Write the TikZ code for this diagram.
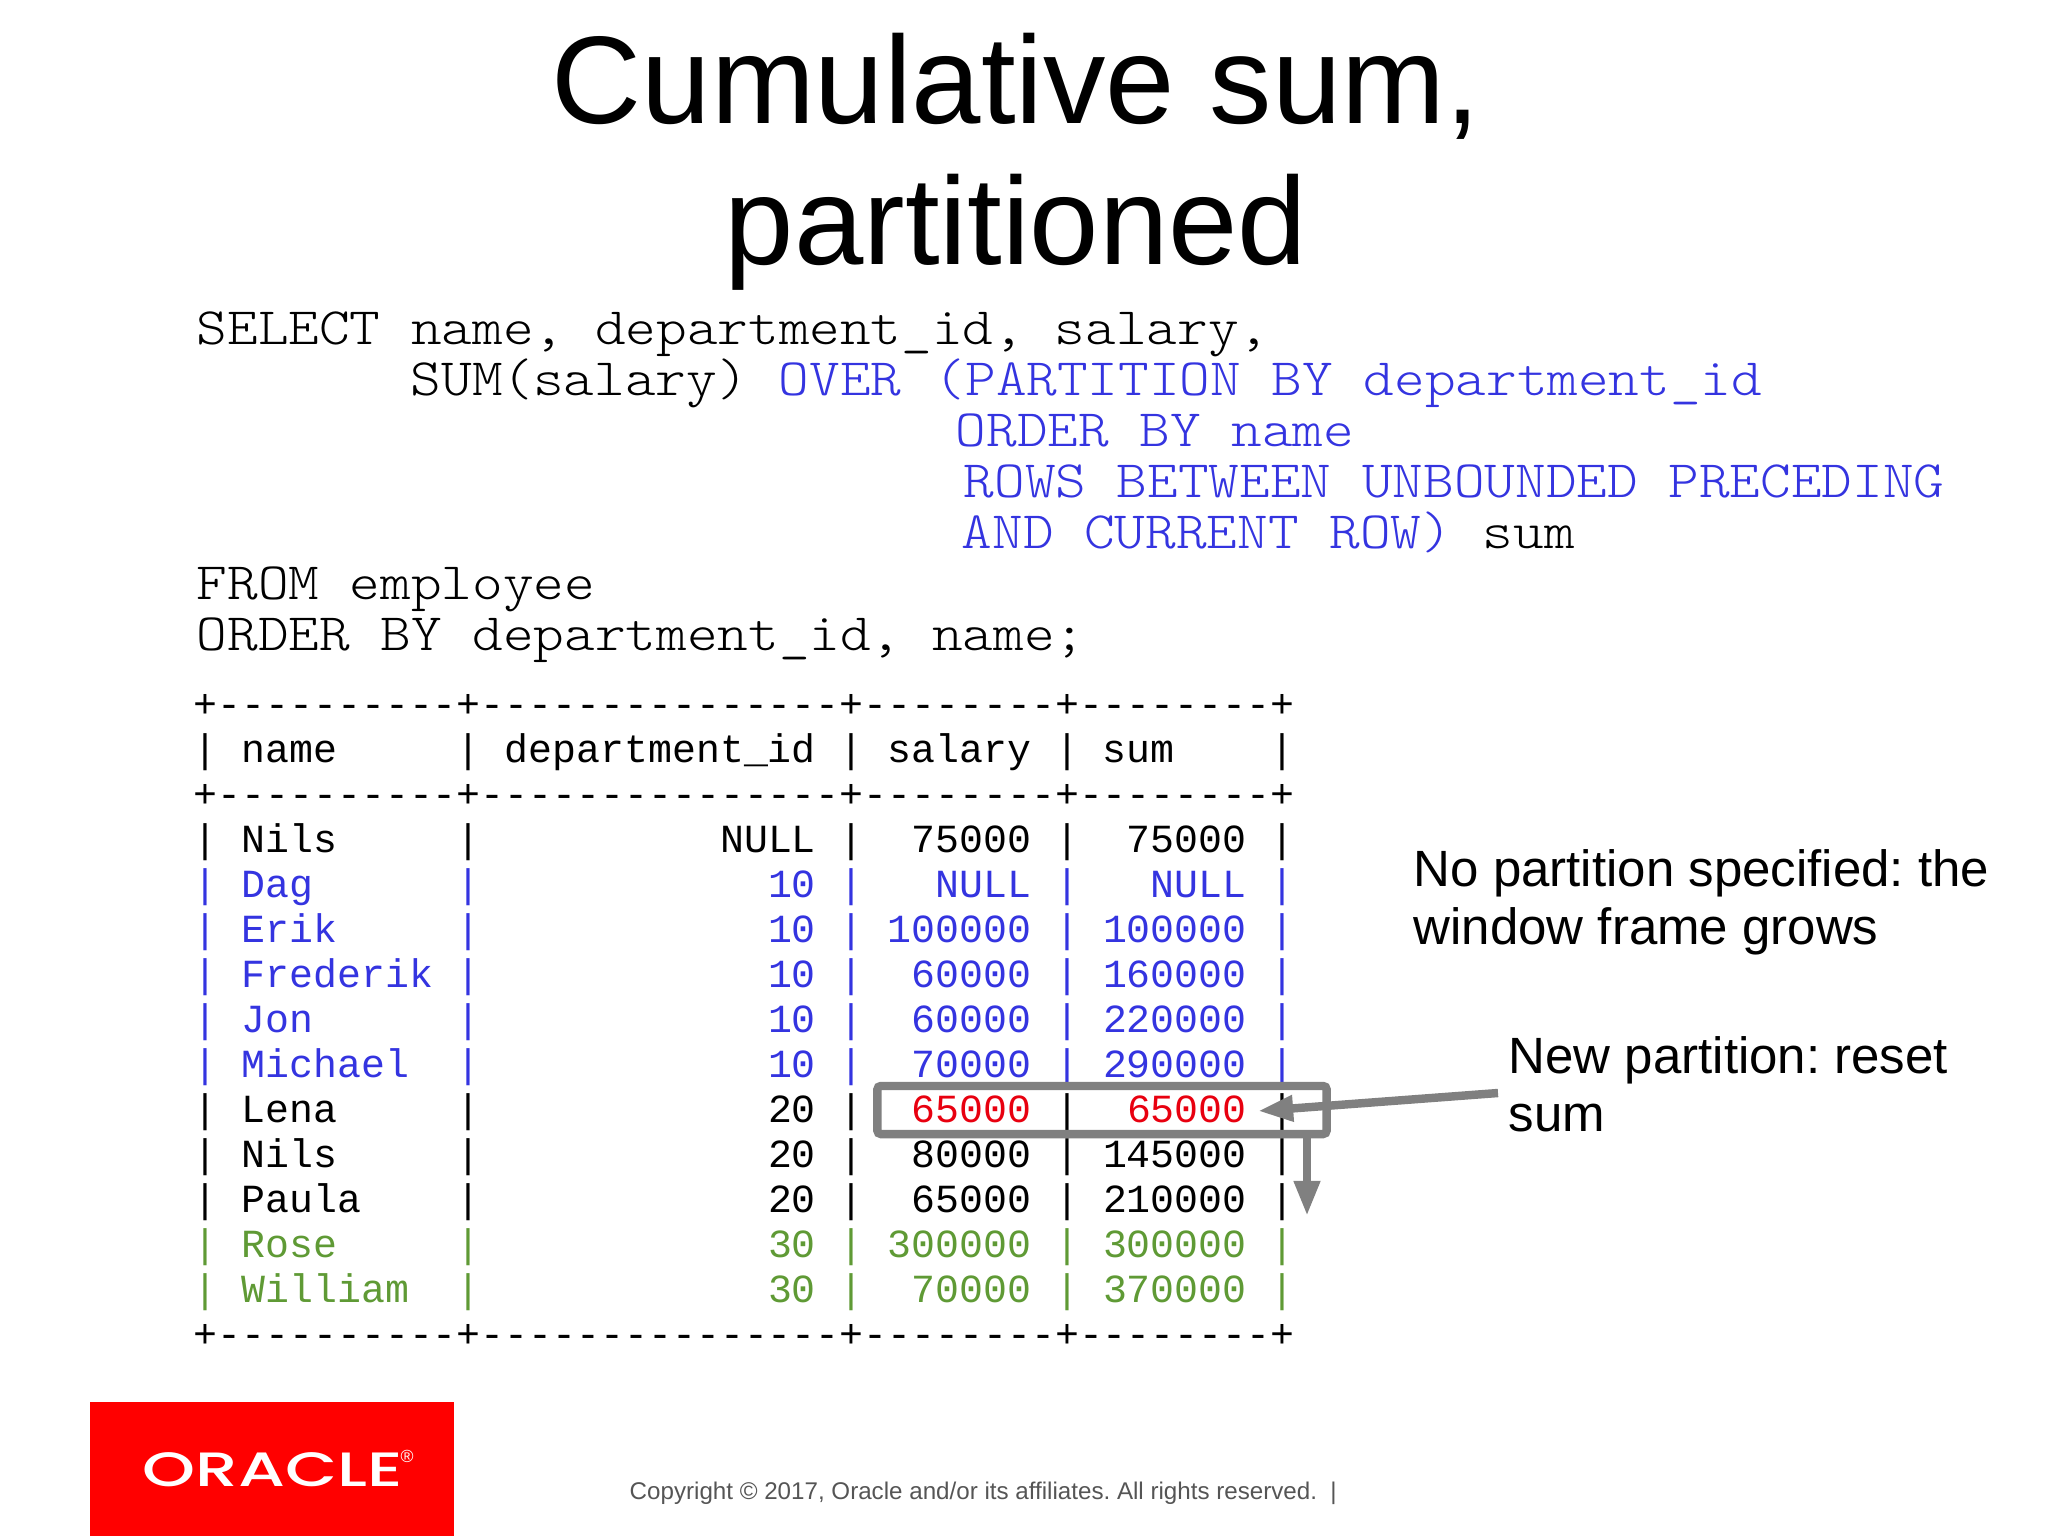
\documentclass[tikz,border=0pt]{standalone}
\usepackage{fontspec}
\setmainfont{Liberation Sans}
\setmonofont{Liberation Mono}
\newfontfamily\sqlfamily{Latin Modern Mono Light}
\newfontfamily\logofamily{Poppins Medium}
\usetikzlibrary{arrows.meta}
\definecolor{tabblue}{HTML}{3434E0}
\definecolor{tabgreen}{HTML}{5F9A35}
\definecolor{tabred}{HTML}{E8000F}
\definecolor{markgray}{HTML}{808080}
\definecolor{footgray}{HTML}{555555}
\definecolor{logored}{HTML}{FF0000}
\newcommand{\titlesize}{\fontsize{35.45pt}{40.2pt}\selectfont}
\newcommand{\notesize}{\fontsize{14.5pt}{16.4pt}\selectfont}
\newcommand{\sqlsize}{\fontsize{16.6pt}{14.6pt}\sqlfamily\selectfont}
\newcommand{\tabsize}{\fontsize{11.34pt}{12.8pt}\ttfamily\selectfont}
\newcommand{\footsize}{\fontsize{6.87pt}{9pt}\selectfont}
\newcommand{\sqltext}[1]{\scalebox{1}[0.9]{#1}}
\tikzset{
  sqlline/.style={anchor=base west,inner sep=0pt,font=\sqlsize},
  tabrow/.style={anchor=base west,inner sep=0pt,font=\tabsize},
  note/.style={anchor=west,inner sep=0pt,align=left,font=\notesize},
  markline/.style={draw=markgray,line width=2.4pt},
  markarrow/.style={markline,-{Triangle[length=10pt,width=7pt]}}
}
\begin{document}
\frenchspacing
\begin{tikzpicture}[x=0.01cm,y=-0.01cm]
\useasboundingbox (0,0) rectangle (2048,1536);

\node[inner sep=0pt,align=center,font=\titlesize] (title) at (1016,162) {Cumulative sum,\\partitioned};

\node[sqlline] (sql1) at (196,344) {\sqltext{SELECT name, department\_id, salary,}};
\node[sqlline] (sql2) at (410,395) {\sqltext{SUM(salary)}};
\node[sqlline,text=tabblue] (sql2a) at (778,395) {\sqltext{OVER}};
\node[sqlline,text=tabblue] (sql2b) at (934,395) {\sqltext{(PARTITION BY department\_id}};
\node[sqlline,text=tabblue] (sql3) at (955,446) {\sqltext{ORDER BY name}};
\node[sqlline,text=tabblue] (sql4) at (963,497) {\sqltext{ROWS BETWEEN UNBOUNDED PRECEDING}};
\node[sqlline,text=tabblue] (sql5) at (961,548) {\sqltext{AND CURRENT ROW)~\textcolor{black}{sum}}};
\node[sqlline] (sql6) at (196,599) {\sqltext{FROM employee}};
\node[sqlline] (sql7) at (196,650) {\sqltext{ORDER BY department\_id, name;}};

\foreach \c/\t [count=\i from 0] in {
  black/{+----------+---------------+--------+--------+},
  black/{|~name~~~~~|~department\_id~|~salary~|~sum~~~~|},
  black/{+----------+---------------+--------+--------+},
  black/{|~Nils~~~~~|~~~~~~~~~~NULL~|~~75000~|~~75000~|},
  tabblue/{|~Dag~~~~~~|~~~~~~~~~~~~10~|~~~NULL~|~~~NULL~|},
  tabblue/{|~Erik~~~~~|~~~~~~~~~~~~10~|~100000~|~100000~|},
  tabblue/{|~Frederik~|~~~~~~~~~~~~10~|~~60000~|~160000~|},
  tabblue/{|~Jon~~~~~~|~~~~~~~~~~~~10~|~~60000~|~220000~|},
  tabblue/{|~Michael~~|~~~~~~~~~~~~10~|~~70000~|~290000~|},
  black/{|~Lena~~~~~|~~~~~~~~~~~~20~|~~\textcolor{tabred}{65000}~|~~\textcolor{tabred}{65000}~|},
  black/{|~Nils~~~~~|~~~~~~~~~~~~20~|~~80000~|~145000~|},
  black/{|~Paula~~~~|~~~~~~~~~~~~20~|~~65000~|~210000~|},
  tabgreen/{|~Rose~~~~~|~~~~~~~~~~~~30~|~300000~|~300000~|},
  tabgreen/{|~William~~|~~~~~~~~~~~~30~|~~70000~|~370000~|},
  black/{+----------+---------------+--------+--------+}
}
  \node[tabrow,text=\c] (row\i) at (193,717+45*\i) {\t};

\node[note] (nopart) at (1413,902) {No partition specified: the\\window frame grows};
\node[note] (newpart) at (1508,1084) {New partition: reset\\sum};

\node[markline,inner sep=0pt,minimum width=4.49cm,minimum height=0.48cm,rounded corners=1pt] (lenabox) at (1102,1110) {};
\coordinate (resettip) at (1258,1111);
\coordinate (growtip) at (1307,1216);
\draw[markarrow] ([shift={(-10,9)}]newpart.west) -- (resettip);
\draw[markarrow] (growtip |- lenabox.south) -- (growtip);

\node[fill=logored,inner sep=0pt,minimum width=3.64cm,minimum height=1.34cm] (logobox) at (272,1469) {};
\node[anchor=base west,inner sep=0pt,text=white,font=\logofamily\fontsize{13.7pt}{14pt}\selectfont] (logo) at (142,1486) {\scalebox{1.4}[1]{ORACLE}};
\node[anchor=center,inner sep=0pt,text=white,font=\fontsize{5pt}{5pt}\selectfont] (logomark) at (407,1456) {®};

\node[anchor=base west,inner sep=0pt,text=footgray,font=\footsize] (copyright) at (629,1499) {Copyright © 2017, Oracle and/or its affiliates. All rights reserved.~~|};
\end{tikzpicture}
\end{document}
